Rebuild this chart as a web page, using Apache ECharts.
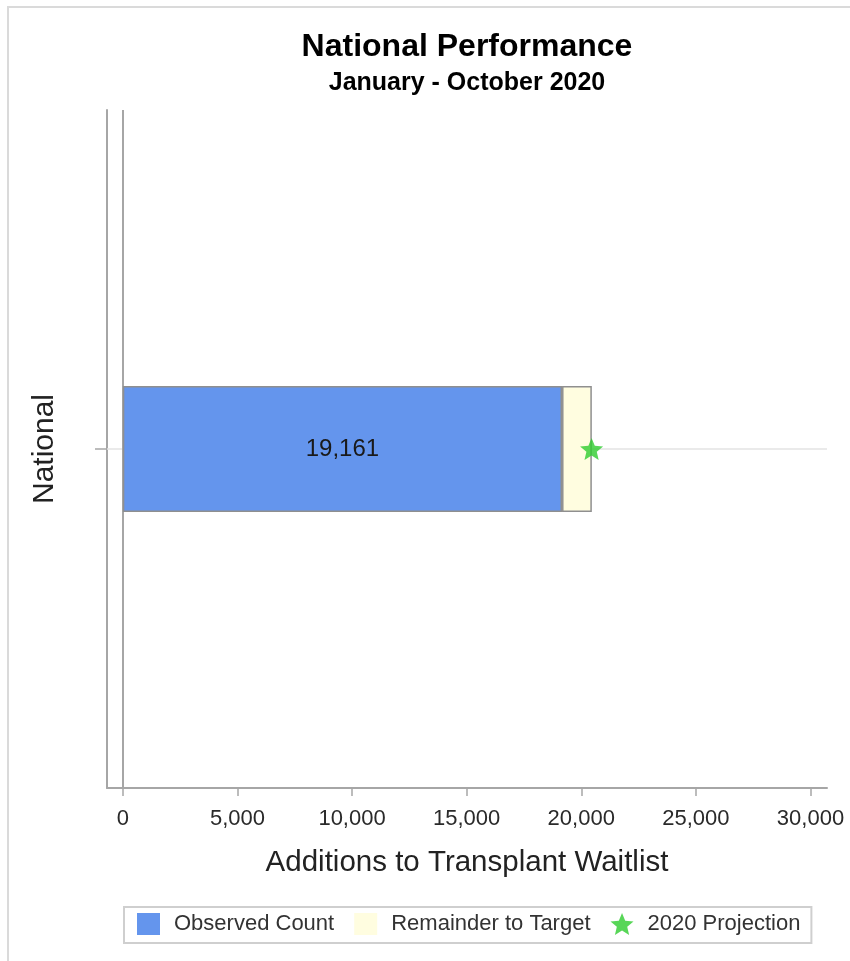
<!DOCTYPE html>
<html>
<head>
<meta charset="utf-8">
<script src="https://cdn.jsdelivr.net/npm/echarts@6/dist/echarts.min.js"></script>
<style>
    html, body { margin: 0; padding: 0; background: #fff; }
    #chart { width: 850px; height: 961px; }
</style>
</head>
<body>
<div id="chart"></div>
<script>
// data
const categories = ['National'];
const observed = [19161];
const remainder = [1300];
const projection = [20450];
const tickValues = [0, 5000, 10000, 15000, 20000, 25000, 30000];

const FONT = "'Liberation Sans', Arial, sans-serif";
const STAR = 'path://M50 0 L63.23 31.8 L97.55 34.55 L71.4 56.95 L79.39 90.45 L50 72.5 L20.61 90.45 L28.6 56.95 L2.45 34.55 L36.77 31.8 Z';

const fmt = v => Number(v).toLocaleString('en-US');

const chart = echarts.init(document.getElementById('chart'));

const option = {
    backgroundColor: '#fff',
    textStyle: { fontFamily: FONT },
    graphic: [
        {
            type: 'rect',
            shape: { x: 8, y: 7, width: 900, height: 1000 },
            style: { fill: 'none', stroke: '#dadada', lineWidth: 2 },
            silent: true
        }
    ],
    title: {
        text: 'National Performance',
        subtext: 'January - October 2020',
        left: 462,
        textAlign: 'center',
        top: 26,
        itemGap: 8,
        textStyle: { fontFamily: FONT, fontSize: 32, fontWeight: 'bold', color: '#000' },
        subtextStyle: { fontFamily: FONT, fontSize: 25, fontWeight: 'bold', color: '#000' }
    },
    legend: {
        left: 124,
        top: 907,
        orient: 'horizontal',
        padding: [6, 11, 8, 13],
        itemGap: 20,
        itemWidth: 23,
        itemHeight: 22,
        borderColor: '#cfcfcf',
        borderWidth: 2,
        textStyle: { fontFamily: FONT, fontSize: 22, color: '#333', padding: [0, 0, 0, 9] },
        itemStyle: { borderWidth: 0 },
        data: [
            { name: 'Observed Count', icon: 'rect' },
            { name: 'Remainder to Target', icon: 'rect' },
            { name: '2020 Projection', icon: STAR }
        ]
    },
    grid: {
        left: 107,
        right: 23,
        top: 110,
        bottom: 173,
        containLabel: false
    },
    xAxis: {
        type: 'value',
        min: -690,
        max: 30720,
        name: 'Additions to Transplant Waitlist',
        nameLocation: 'middle',
        nameGap: 60,
        nameTextStyle: { fontFamily: FONT, fontSize: 29.5, color: '#222' },
        axisLine: { show: true, onZero: false, lineStyle: { color: '#a6a6a6', width: 2 } },
        axisTick: { show: true, customValues: tickValues, length: 8, lineStyle: { color: '#a6a6a6', width: 1.5 } },
        axisLabel: {
            customValues: tickValues,
            formatter: v => fmt(v),
            fontFamily: FONT,
            fontSize: 22,
            color: '#2a2a2a',
            margin: 20
        },
        splitLine: { show: false }
    },
    yAxis: {
        type: 'category',
        data: categories,
        name: 'National',
        nameLocation: 'middle',
        nameGap: 47,
        nameTextStyle: { fontFamily: FONT, fontSize: 30, color: '#222' },
        axisLine: { show: true, onZero: false, lineStyle: { color: '#a6a6a6', width: 2 } },
        axisTick: { show: true, alignWithLabel: true, length: 12, lineStyle: { color: '#a6a6a6', width: 1.5 } },
        axisLabel: { show: false },
        splitLine: { show: false }
    },
    series: [
        {
            name: 'Observed Count',
            type: 'bar',
            stack: 'total',
            barWidth: 126,
            z: 3,
            data: observed,
            itemStyle: { color: '#6495ED', borderColor: '#8f8f8f', borderWidth: 1.5 },
            label: {
                show: true,
                position: 'inside',
                formatter: p => fmt(p.value),
                fontFamily: FONT,
                fontSize: 24,
                color: '#1a1a1a'
            },
            markLine: {
                silent: true,
                symbol: 'none',
                z: 1,
                label: { show: false },
                data: [
                    { yAxis: 'National', lineStyle: { color: '#e3e3e3', width: 1.5, type: 'solid' } },
                    { xAxis: 0, lineStyle: { color: '#a6a6a6', width: 2, type: 'solid' } }
                ]
            }
        },
        {
            name: 'Remainder to Target',
            type: 'bar',
            stack: 'total',
            barWidth: 126,
            z: 3,
            data: remainder,
            itemStyle: { color: '#FFFDE0', borderColor: '#8f8f8f', borderWidth: 1.5 }
        },
        {
            name: '2020 Projection',
            type: 'scatter',
            z: 5,
            symbol: STAR,
            symbolSize: 23,
            symbolKeepAspect: true,
            data: projection.map((v, i) => [v, categories[i]]),
            itemStyle: { color: '#2ECC2E' }
        }
    ]
};

chart.setOption(option);
</script>
</body>
</html>
